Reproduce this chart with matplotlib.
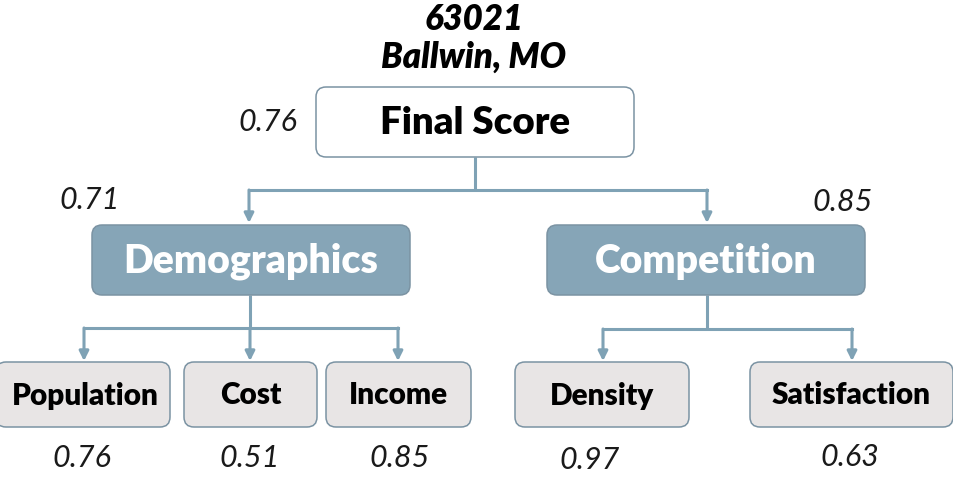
import matplotlib
matplotlib.use("Agg")
import matplotlib.pyplot as plt
from matplotlib.patches import FancyBboxPatch

# ---- data ----
title_zip = "63021"
title_place = "Ballwin, MO"
root_name = "Final Score"
root_score = 0.76
group_names = ["Demographics", "Competition"]
group_scores = [0.71, 0.85]
leaf_names = ["Population", "Cost", "Income", "Density", "Satisfaction"]
leaf_scores = [0.76, 0.51, 0.85, 0.97, 0.63]
leaf_parent = [0, 0, 0, 1, 1]

# ---- layout (pixel coordinates, y down) ----
root_box = (316, 87, 634, 157)
group_boxes = [(92, 225, 410, 295), (547, 225, 865, 295)]
leaf_boxes = [(-4, 362, 170, 427), (184, 362, 317, 427), (326, 362, 471, 427),
              (515, 362, 689, 427), (750, 362, 953, 427)]
root_label_pos = (268, 122)
group_label_pos = [(90, 200), (843, 202)]
leaf_label_pos = [(82, 458), (250, 458), (400, 458), (590, 460), (850, 457)]
group_arrow_x = [249, 707]
group_stem_x = [250, 707]
leaf_arrow_x = [84, 250, 398, 603, 852]
root_bar_y = 190
group_bar_y = [328, 329]

LINE = "#7fa2b5"
EDGE = "#7b93a3"
GROUP_FILL = "#86a5b7"
LEAF_FILL = "#e8e5e5"
FONT = "Lato"
W = "heavy"
NUM_SIZE = 22

fig = plt.figure(figsize=(9.54, 4.8), dpi=100)
ax = fig.add_axes([0, 0, 1, 1])
ax.set_xlim(0, 954)
ax.set_ylim(480, 0)
ax.axis("off")


def box(b, fc, ec, r=10):
    x0, y0, x1, y1 = b
    p = FancyBboxPatch((x0, y0), x1 - x0, y1 - y0,
                       boxstyle=f"round,pad=0,rounding_size={r}",
                       fc=fc, ec=ec, lw=1.1, zorder=3)
    ax.add_patch(p)


def arrow(x, y0, y1):
    ax.annotate("", xy=(x, y1), xytext=(x, y0),
                arrowprops=dict(arrowstyle="-|>", color=LINE, lw=2.2,
                                mutation_scale=14, shrinkA=0, shrinkB=0),
                zorder=2)


def num(pos, v):
    ax.text(*pos, f"{v:.2f}", ha="center", va="center", fontsize=NUM_SIZE,
            fontstyle="italic", fontweight="normal", family=FONT,
            color="#1a1a1a")


# title
ax.text(474, 20, title_zip, ha="center", va="center", fontsize=25,
        fontweight=W, fontstyle="italic", family=FONT)
ax.text(474, 57, title_place, ha="center", va="center", fontsize=25,
        fontweight=W, fontstyle="italic", family=FONT)

# root
box(root_box, "white", EDGE)
cx = (root_box[0] + root_box[2]) / 2
cy = (root_box[1] + root_box[3]) / 2
ax.text(cx, cy + 1, root_name, ha="center", va="center", fontsize=27.6,
        fontweight=W, family=FONT, zorder=4)
num(root_label_pos, root_score)

# root connectors
ax.plot([cx, cx], [root_box[3], root_bar_y], color=LINE, lw=2.2, zorder=2,
        solid_capstyle="butt")
ax.plot([group_arrow_x[0], group_arrow_x[1]], [root_bar_y, root_bar_y],
        color=LINE, lw=2.2, zorder=2, solid_capstyle="projecting")
for gx, gb in zip(group_arrow_x, group_boxes):
    arrow(gx, root_bar_y, gb[1] - 2)

# groups
for i, (name, sc, gb, lp) in enumerate(zip(group_names, group_scores,
                                            group_boxes, group_label_pos)):
    box(gb, GROUP_FILL, EDGE)
    gx = (gb[0] + gb[2]) / 2
    gy = (gb[1] + gb[3]) / 2
    ax.text(gx, gy + 1, name, ha="center", va="center", fontsize=28.2,
            fontweight=W, color="white", family=FONT, zorder=4)
    num(lp, sc)
    kids = [k for k, p in enumerate(leaf_parent) if p == i]
    xs = [leaf_arrow_x[k] for k in kids]
    sx = group_stem_x[i]
    ax.plot([sx, sx], [gb[3], group_bar_y[i]], color=LINE, lw=2.2,
            zorder=2, solid_capstyle="butt")
    ax.plot([min(xs), max(xs)], [group_bar_y[i]] * 2, color=LINE, lw=2.2,
            zorder=2, solid_capstyle="projecting")
    for k in kids:
        arrow(leaf_arrow_x[k], group_bar_y[i], leaf_boxes[k][1] - 1)

# leaves
for name, sc, lb, lp in zip(leaf_names, leaf_scores, leaf_boxes, leaf_label_pos):
    box(lb, LEAF_FILL, EDGE)
    lx = (max(lb[0], 0) + lb[2]) / 2
    ly = (lb[1] + lb[3]) / 2
    ax.text(lx, ly + 1, name, ha="center", va="center", fontsize=21.4,
            fontweight=W, family=FONT, zorder=4)
    num(lp, sc)

fig.savefig("out.png", dpi=100, facecolor="white")
